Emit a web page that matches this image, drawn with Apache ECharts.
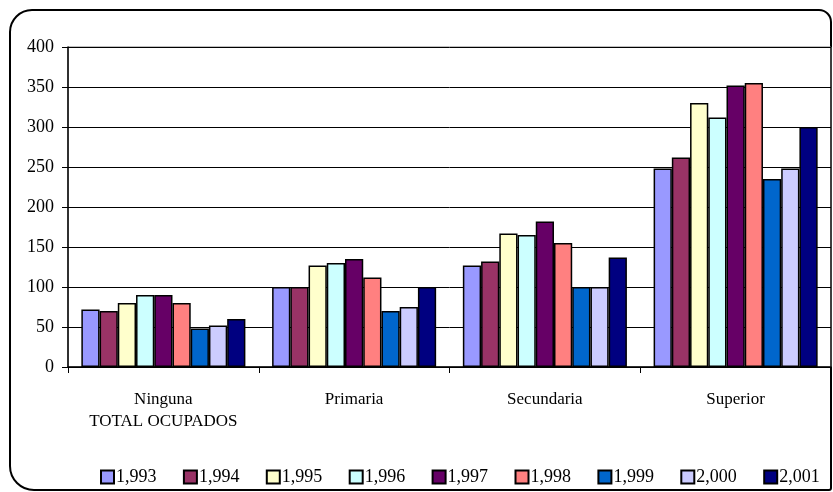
<!DOCTYPE html>
<html>
<head>
<meta charset="utf-8">
<script src="https://cdn.jsdelivr.net/npm/echarts@6/dist/echarts.min.js"></script>
<style>
  html, body { margin: 0; padding: 0; background: #fff; }
  #chart { width: 833px; height: 492px; }
</style>
</head>
<body>
<div id="chart"></div>
<script>
// Education level categories
const categories = ['Ninguna', 'Primaria', 'Secundaria', 'Superior'];
const groupLabel = 'TOTAL OCUPADOS';

// Employed persons by education level, one series per year
const years = ['1,993', '1,994', '1,995', '1,996', '1,997', '1,998', '1,999', '2,000', '2,001'];
const v1993 = [72, 100, 127, 248];
const v1994 = [70, 100, 132, 262];
const v1995 = [80, 127, 167, 330];
const v1996 = [90, 130, 165, 312];
const v1997 = [90, 135, 182, 352];
const v1998 = [80, 112, 155, 355];
const v1999 = [48, 70, 100, 235];
const v2000 = [52, 75, 100, 248];
const v2001 = [60, 100, 137, 300];
const values = [v1993, v1994, v1995, v1996, v1997, v1998, v1999, v2000, v2001];

const colors = ['#9999FF', '#993366', '#FFFFCC', '#CCFFFF', '#660066', '#FF8080', '#0066CC', '#CCCCFF', '#000080'];

const serif = "'Liberation Serif', 'Times New Roman', serif";

const chart = echarts.init(document.getElementById('chart'), null, { renderer: 'canvas' });

chart.setOption({
  animation: false,
  backgroundColor: '#ffffff',
  color: colors,
  textStyle: { fontFamily: serif, color: '#000' },
  graphic: [{
    type: 'rect',
    z: -1,
    shape: { x: 10, y: 10, width: 821, height: 480, r: [22, 12, 2, 24] },
    style: { fill: 'none', stroke: '#000', lineWidth: 2 }
  }],
  grid: {
    left: 68, right: 2, top: 47, bottom: 125,
    show: true, borderColor: '#808080', borderWidth: 1
  },
  legend: {
    data: years,
    left: 100,
    top: 468,
    padding: 0,
    itemWidth: 13,
    itemHeight: 13,
    itemGap: 26.4,
    icon: 'rect',
    textStyle: { fontFamily: serif, fontSize: 18, color: '#000', padding: [0, 0, 0, -3] }
  },
  xAxis: {
    type: 'category',
    data: categories,
    axisLine: { lineStyle: { color: '#000', width: 1.5 } },
    axisTick: { show: true, interval: 0, length: 6, lineStyle: { color: '#000', width: 1 } },
    axisLabel: {
      interval: 0,
      margin: 22,
      fontFamily: serif, fontSize: 17, color: '#000', lineHeight: 22,
      formatter: (v, i) => i === 0 ? v + '\n' + groupLabel : v
    }
  },
  yAxis: {
    type: 'value',
    min: 0, max: 400, interval: 50,
    axisLine: { show: true, lineStyle: { color: '#000', width: 1.5 } },
    axisTick: { show: true, length: 6, lineStyle: { color: '#000', width: 1 } },
    axisLabel: { margin: 14, fontFamily: serif, fontSize: 18, color: '#000' },
    splitLine: { show: true, lineStyle: { color: '#000', width: 1 } }
  },
  series: years.map((y, i) => ({
    name: y,
    type: 'bar',
    data: values[i],
    barGap: '0%',
    barCategoryGap: '14%',
    itemStyle: { color: colors[i], borderColor: '#000', borderWidth: 1.5 }
  }))
});
</script>
</body>
</html>
